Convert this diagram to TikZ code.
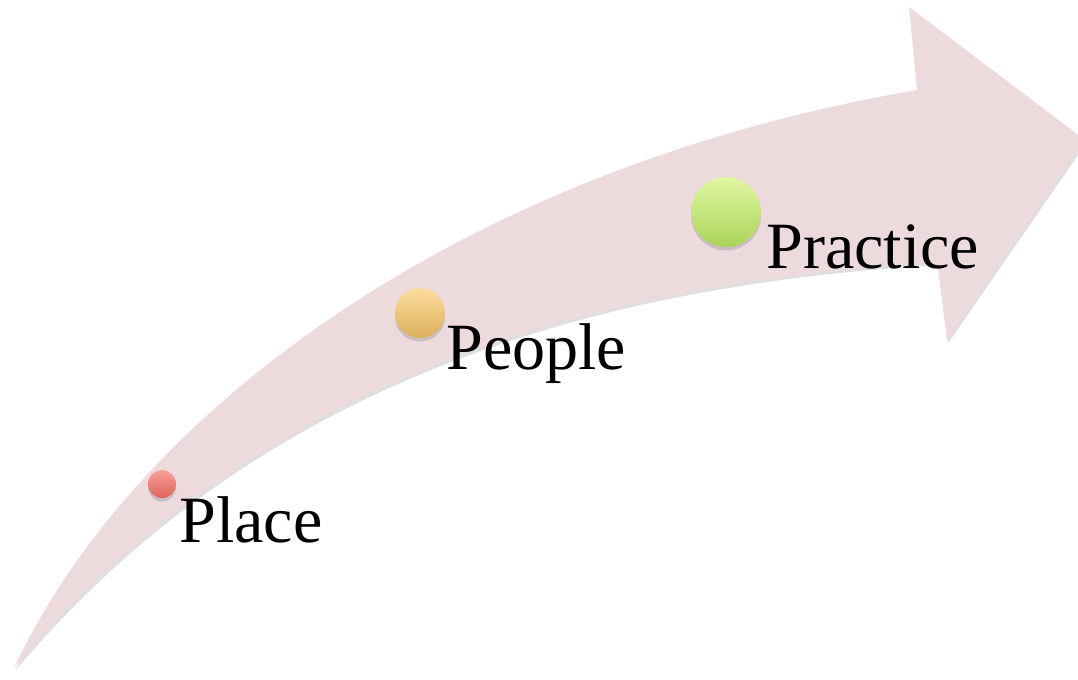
\documentclass[tikz,border=0pt]{standalone}
\usepackage{fontspec}
\setmainfont{Liberation Serif}
\usetikzlibrary{shadows}

\definecolor{bandpink}{RGB}{237,218,220}
\definecolor{redtop}{RGB}{246,162,156}
\definecolor{redbot}{RGB}{224,98,88}
\definecolor{ambertop}{RGB}{251,220,158}
\definecolor{amberbot}{RGB}{221,176,92}
\definecolor{limetop}{RGB}{224,247,163}
\definecolor{limebot}{RGB}{170,211,88}

\begin{document}
\begin{tikzpicture}[x=0.025cm, y=-0.025cm,
    dot/.style={circle, inner sep=0pt, drop shadow={shadow xshift=0pt, shadow yshift=-2.5pt, opacity=0.3}},
    lbl/.style={anchor=base west, inner sep=0pt, font=\fontsize{47}{56}\selectfont}]
    \useasboundingbox (0,0) rectangle (1078,679);
    \clip (0,0) rectangle (1078,679);

    % Curved band with arrow head
    \path[fill=bandpink, drop shadow={shadow xshift=1pt, shadow yshift=-2pt, opacity=0.25}]
      (14,668) .. controls (130,420) and (450,170) .. (917,90)
      -- (909,7) -- (1085,140) -- (947,340) -- (937,262)
      .. controls (650,280) and (280,350) .. (14,668) -- cycle;

    % Stage markers: name/x/y/diameter/top/bottom
    \foreach \nm/\x/\y/\d/\tc/\bc in {place/162/484/0.7cm/redtop/redbot,
                                      people/420/313/1.25cm/ambertop/amberbot,
                                      practice/726/212/1.75cm/limetop/limebot} {
      \node[dot, minimum size=\d, top color=\tc, bottom color=\bc] (\nm dot) at (\x,\y) {};
    }

    % Labels
    \node[lbl] (place) at (179,542) {Place};
    \node[lbl] (people) at (446,369) {People};
    \node[lbl] (practice) at (766,268) {Practice};
  \end{tikzpicture}
\end{document}
